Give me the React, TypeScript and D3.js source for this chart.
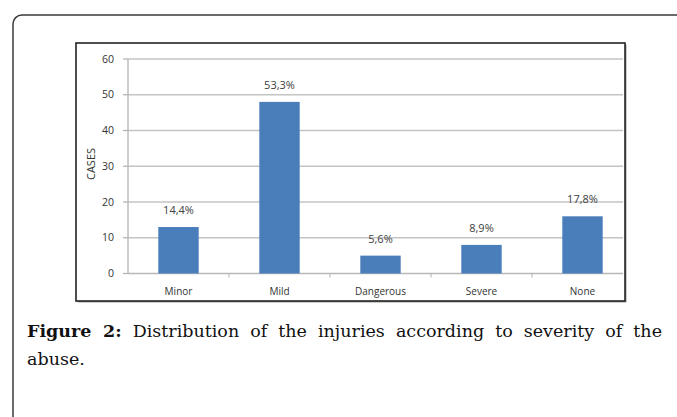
import React, { useEffect, useRef } from "react";
import * as d3 from "d3";

const categories = ["Minor", "Mild", "Dangerous", "Severe", "None"];
const cases = [13, 48, 5, 8, 16];
const percentLabels = ["14,4%", "53,3%", "5,6%", "8,9%", "17,8%"];
const yTicks = [0, 10, 20, 30, 40, 50, 60];

const W = 677;
const H = 417;
const frame = { x: 76, y: 43, w: 549, h: 258 };
const plot = { left: 128, right: 633, top: 59, bottom: 273.5, clipRight: 623 };

const App = () => {
  const ref = useRef<SVGSVGElement>(null);

  useEffect(() => {
    const svg = d3.select(ref.current);
    svg.selectAll("*").remove();

    const x = d3.scaleBand().domain(categories).range([plot.left, plot.right]).paddingInner(0.6).paddingOuter(0.3);
    const y = d3.scaleLinear().domain([0, 60]).range([plot.bottom, plot.top]);

    // outer rounded box
    svg.append("rect")
      .attr("x", 13).attr("y", 15).attr("width", 700).attr("height", 450)
      .attr("rx", 9).attr("fill", "white").attr("stroke", "#3a3a3a").attr("stroke-width", 1.5);

    // chart frame
    svg.append("rect")
      .attr("x", frame.x + 1.5).attr("y", frame.y + 1.5).attr("width", frame.w).attr("height", frame.h)
      .attr("fill", "#9a9a9a");
    svg.append("rect")
      .attr("x", frame.x).attr("y", frame.y).attr("width", frame.w).attr("height", frame.h)
      .attr("fill", "white").attr("stroke", "#222").attr("stroke-width", 1.6);

    const g = svg.append("g");

    // gridlines
    g.selectAll(".grid").data(yTicks.filter(d => d > 0)).enter().append("line")
      .attr("x1", plot.left).attr("x2", plot.clipRight)
      .attr("y1", d => y(d)).attr("y2", d => y(d))
      .attr("stroke", "#c4c4c4").attr("stroke-width", 1.4);

    // y tick marks + labels
    g.selectAll(".ytick").data(yTicks).enter().append("line")
      .attr("x1", plot.left - 5).attr("x2", plot.left)
      .attr("y1", d => y(d)).attr("y2", d => y(d))
      .attr("stroke", "#b0b0b0").attr("stroke-width", 1.2);
    g.selectAll(".ylab").data(yTicks).enter().append("text")
      .attr("x", plot.left - 14).attr("y", d => y(d)).attr("dy", "0.35em")
      .attr("text-anchor", "end").attr("font-family", "Open Sans, sans-serif").attr("font-size", 10.5)
      .attr("fill", "#333").text(d => d);

    // axes
    g.append("line").attr("x1", plot.left).attr("x2", plot.left).attr("y1", plot.top).attr("y2", plot.bottom)
      .attr("stroke", "#b8b8b8").attr("stroke-width", 1.4);
    g.append("line").attr("x1", plot.left).attr("x2", plot.clipRight).attr("y1", plot.bottom).attr("y2", plot.bottom)
      .attr("stroke", "#b8b8b8").attr("stroke-width", 1.4);

    // x ticks at band boundaries
    const step = x.step();
    g.selectAll(".xtick").data(categories.slice(1)).enter().append("line")
      .attr("x1", d => x(d)! + x.bandwidth() / 2 - step / 2)
      .attr("x2", d => x(d)! + x.bandwidth() / 2 - step / 2)
      .attr("y1", plot.bottom).attr("y2", plot.bottom + 4)
      .attr("stroke", "#b0b0b0").attr("stroke-width", 1);

    // bars
    g.selectAll(".bar").data(cases).enter().append("rect")
      .attr("x", (_, i) => x(categories[i])!)
      .attr("width", x.bandwidth())
      .attr("y", d => y(d))
      .attr("height", d => plot.bottom - y(d))
      .attr("fill", "#4a7ebb");

    // percentage labels
    g.selectAll(".pct").data(cases).enter().append("text")
      .attr("x", (_, i) => x(categories[i])! + x.bandwidth() / 2)
      .attr("y", d => y(d) - 13)
      .attr("text-anchor", "middle").attr("font-family", "Open Sans, sans-serif").attr("font-size", 11)
      .attr("fill", "#404040").text((_, i) => percentLabels[i]);

    // category labels
    g.selectAll(".cat").data(categories).enter().append("text")
      .attr("x", d => x(d)! + x.bandwidth() / 2)
      .attr("y", 295)
      .attr("text-anchor", "middle").attr("font-family", "Open Sans, sans-serif").attr("font-size", 10)
      .attr("fill", "#333").text(d => d);

    // y axis title
    g.append("text")
      .attr("transform", `translate(95,164) rotate(-90)`)
      .attr("text-anchor", "middle").attr("font-family", "Open Sans, sans-serif").attr("font-size", 11)
      .attr("fill", "#333").text("CASES");

    // caption, justified by word spacing
    const capFont = "DejaVu Serif, serif";
    const capSize = 17.5;
    const capLeft = 27;
    const capRight = 662;
    const boldPart = "Figure 2:";
    const line1Rest = " Distribution of the injuries according to severity of the";
    const cap1 = svg.append("text")
      .attr("x", capLeft).attr("y", 337)
      .attr("font-family", capFont).attr("font-size", capSize).attr("fill", "#111");
    cap1.append("tspan").attr("font-weight", "bold").text(boldPart);
    cap1.append("tspan").text(line1Rest);
    const node = cap1.node() as SVGTextElement;
    const len = node.getComputedTextLength();
    const spaces = (boldPart + line1Rest).split(" ").length - 1;
    cap1.attr("word-spacing", (capRight - capLeft - len) / spaces);

    svg.append("text")
      .attr("x", capLeft).attr("y", 365)
      .attr("font-family", capFont).attr("font-size", capSize).attr("fill", "#111")
      .text("abuse.");
  }, []);

  return (
    <svg ref={ref} width={W} height={H} style={{ position: "absolute", left: 0, top: 0 }} />
  );
};

export default App;
